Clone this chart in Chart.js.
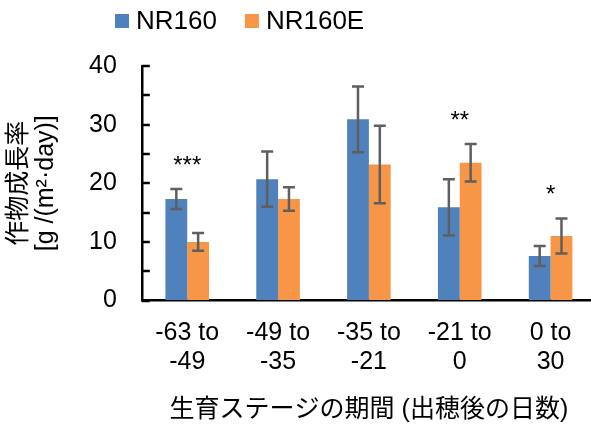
<!DOCTYPE html>
<html>
<head>
<meta charset="utf-8">
<script src="https://cdn.jsdelivr.net/npm/chart.js@4/dist/chart.umd.min.js"></script>
<style>
  html, body { margin: 0; padding: 0; background: #fff; overflow: hidden; }
  #wrap { width: 600px; height: 425px; }
</style>
</head>
<body>
<div id="wrap"><canvas id="c" width="600" height="425"></canvas></div>
<script>
// Growth periods (days after heading)
const categories = [['-63 to', '-49'], ['-49 to', '-35'], ['-35 to', '-21'], ['-21 to', '0'], ['0 to', '30']];
const seriesNames = ['NR160', 'NR160E'];
// Crop growth rate, g/(m2·day)
const nr160 = [17.3, 20.7, 30.9, 15.9, 7.6];
const nr160Err = [1.7, 4.7, 5.6, 4.8, 1.7];
const nr160e = [10.0, 17.3, 23.2, 23.5, 11.0];
const nr160eErr = [1.5, 2.0, 6.6, 3.2, 3.0];
// Significance marks per period
const significance = ['***', '', '', '**', '*'];
const yTicks = [0, 10, 20, 30, 40];

const FONT = '"Liberation Sans", Arial, "Noto Sans CJK JP", sans-serif';

// Short tick marks pointing into the plot, every 5 units
const innerTicks = {
  id: 'innerTicks',
  afterDraw(chart) {
    const { ctx, scales: { y }, chartArea } = chart;
    ctx.save();
    ctx.strokeStyle = '#000';
    ctx.lineWidth = 2.5;
    for (let v = y.min; v <= y.max; v += 5) {
      const py = Math.round(y.getPixelForValue(v));
      ctx.beginPath();
      ctx.moveTo(chartArea.left, py);
      ctx.lineTo(chartArea.left + 8, py);
      ctx.stroke();
    }
    ctx.restore();
  }
};

// Error bars and significance marks
const errorBars = {
  id: 'errorBars',
  afterDatasetsDraw(chart) {
    const { ctx, scales: { y } } = chart;
    ctx.save();
    ctx.strokeStyle = '#5f5f5f';
    ctx.lineWidth = 2.5;
    const tops = [];
    chart.data.datasets.forEach((ds, di) => {
      const meta = chart.getDatasetMeta(di);
      meta.data.forEach((bar, i) => {
        const v = ds.data[i], e = ds.errors[i];
        const yt = y.getPixelForValue(v + e);
        const yb = y.getPixelForValue(v - e);
        const x = bar.x;
        ctx.beginPath();
        ctx.moveTo(x, yt); ctx.lineTo(x, yb);
        ctx.moveTo(x - 6, yt); ctx.lineTo(x + 6, yt);
        ctx.moveTo(x - 6, yb); ctx.lineTo(x + 6, yb);
        ctx.stroke();
        tops[i] = Math.min(tops[i] ?? Infinity, yt);
      });
    });
    ctx.fillStyle = '#000';
    ctx.font = '24px ' + FONT;
    ctx.textAlign = 'center';
    ctx.textBaseline = 'alphabetic';
    const x = chart.scales.x;
    significance.forEach((s, i) => {
      if (!s) return;
      ctx.fillText(s, x.getPixelForValue(i), tops[i] - 16);
    });
    ctx.restore();
  }
};

// Legend row along the top
const topLegend = {
  id: 'topLegend',
  afterDraw(chart) {
    const { ctx } = chart;
    ctx.save();
    ctx.font = '26px ' + FONT;
    ctx.textBaseline = 'middle';
    ctx.textAlign = 'left';
    let x = 115;
    const cy = 21;
    chart.data.datasets.forEach(ds => {
      ctx.fillStyle = ds.backgroundColor;
      ctx.fillRect(x, cy - 7, 14, 14);
      x += 21;
      ctx.fillStyle = '#000';
      ctx.fillText(ds.label, x, cy + 1);
      x += ctx.measureText(ds.label).width + 28;
    });
    ctx.restore();
  }
};

new Chart(document.getElementById('c'), {
  type: 'bar',
  data: {
    labels: categories,
    datasets: [
      { label: seriesNames[0], data: nr160, errors: nr160Err, backgroundColor: '#4F81BD',
        categoryPercentage: 0.48, barPercentage: 1.0 },
      { label: seriesNames[1], data: nr160e, errors: nr160eErr, backgroundColor: '#F79646',
        categoryPercentage: 0.48, barPercentage: 1.0 }
    ]
  },
  options: {
    responsive: false,
    animation: false,
    devicePixelRatio: 1,
    layout: { padding: { top: 66, left: 0, right: 4, bottom: 0 } },
    plugins: { legend: { display: false }, tooltip: { enabled: false } },
    scales: {
      x: {
        grid: { display: true, drawOnChartArea: false, drawTicks: false },
        border: { display: true, color: '#000', width: 2.5 },
        ticks: { color: '#000', font: { family: FONT, size: 25, lineHeight: 1.15 }, padding: 18,
                 maxRotation: 0, autoSkip: false },
        title: { display: true, text: '生育ステージの期間 (出穂後の日数)', color: '#000',
                 font: { family: FONT, size: 25, lineHeight: 1.2 }, padding: { top: 1, bottom: 0 } }
      },
      y: {
        min: 0, max: 40,
        afterBuildTicks(scale) { scale.ticks = yTicks.map(v => ({ value: v })); },
        grid: { display: true, drawOnChartArea: false, drawTicks: false },
        border: { display: true, color: '#000', width: 2.5 },
        ticks: { color: '#000', font: { family: FONT, size: 25 }, padding: 25 },
        title: { display: true, text: ['作物成長率', '[g /(m²·day)]'], color: '#000',
                 font: { family: FONT, size: 25, lineHeight: 1.1 }, padding: { top: 5, bottom: 4 } }
      }
    }
  },
  plugins: [innerTicks, errorBars, topLegend]
});
</script>
</body>
</html>
